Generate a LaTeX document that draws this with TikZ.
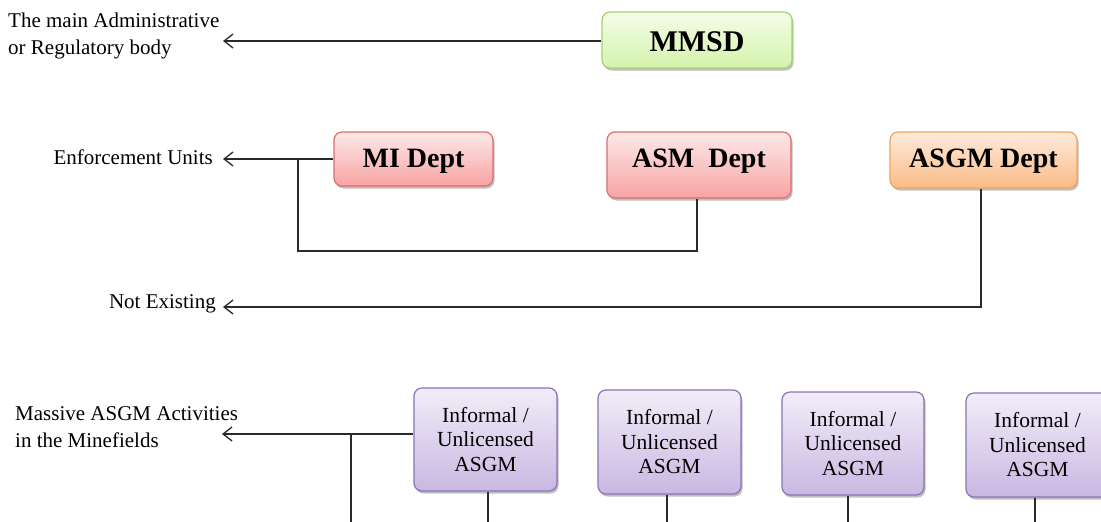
\documentclass[tikz,border=0pt]{standalone}
\usepackage{fontspec}
\setmainfont{Liberation Serif}
\usetikzlibrary{arrows.meta,shadows}
\definecolor{gTop}{HTML}{F4FDE9}
\definecolor{gBot}{HTML}{D4F3AC}
\definecolor{gBrd}{HTML}{A3D46A}
\definecolor{rTop}{HTML}{FDE9E9}
\definecolor{rBot}{HTML}{F8A3A3}
\definecolor{rBrd}{HTML}{DC6E6E}
\definecolor{oTop}{HTML}{FEEBDC}
\definecolor{oBot}{HTML}{FBBB86}
\definecolor{oBrd}{HTML}{F3A25A}
\definecolor{pTop}{HTML}{F1EDF8}
\definecolor{pBot}{HTML}{C9B8E2}
\definecolor{pBrd}{HTML}{8C72B6}
\definecolor{lineC}{HTML}{2A2A2A}
\tikzset{
  x=1pt, y=-1pt,
  boxbase/.style={rounded corners=8pt, line width=1.2pt, inner sep=0pt,
    drop shadow={shadow xshift=1.5pt, shadow yshift=-2.5pt, opacity=0.25, fill=black}},
  greenbox/.style={boxbase, draw=gBrd, top color=gTop, bottom color=gBot},
  redbox/.style={boxbase, draw=rBrd, top color=rTop, bottom color=rBot},
  orangebox/.style={boxbase, draw=oBrd, top color=oTop, bottom color=oBot},
  purplebox/.style={boxbase, draw=pBrd, top color=pTop, bottom color=pBot,
    minimum width=143pt, minimum height=103pt, align=center,
    font=\fontsize{21.5}{24.5}\selectfont},
  boldtxt/.style={font=\fontsize{28}{32}\selectfont\bfseries, inner sep=0pt, anchor=base},
  sidelabel/.style={font=\fontsize{21}{27}\selectfont, inner sep=0pt, align=left},
  conn/.style={draw=lineC, line width=1.3pt},
  arr/.style={conn, -{Straight Barb[length=9pt,width=14pt,line width=1.3pt]}},
}
\begin{document}
\begin{tikzpicture}
\useasboundingbox (0,0) rectangle (1101,522);
\clip (0,0) rectangle (1101,522);

% top level
\node[greenbox, minimum width=190pt, minimum height=56pt] (mmsd) at (697,40) {};
\node[boldtxt, font=\fontsize{30}{34}\selectfont\bfseries] (mmsdt) at (697,51) {MMSD};
\node[sidelabel, anchor=west] (lab1) at (8,36) {The main Administrative\\or Regulatory body};
\coordinate (tip1) at (223,41);
\draw[arr] (mmsd.west |- 0,41) -- (tip1);

% departments
\node[redbox, minimum width=159pt, minimum height=54pt] (mi) at (413.5,159) {};
\node[boldtxt] (mit) at (413.5,167) {MI Dept};
\node[redbox, minimum width=184pt, minimum height=66pt] (asm) at (699,165) {};
\node[boldtxt] (asmt) at (699,167) {ASM\ \ Dept};
\node[orangebox, minimum width=187pt, minimum height=56pt] (asgm) at (983.5,160) {};
\node[boldtxt] (asgmt) at (983.5,167) {ASGM Dept};

\node[sidelabel, anchor=east] (lab2) at (213,157) {Enforcement Units};
\coordinate (tip2) at (223,159);
\coordinate (b1) at (298,159);
\coordinate (b2) at (298,251);
\coordinate (b3) at (697,251);
\draw[arr] (mi.west) -- (tip2);
\draw[conn] (b1) -- (b2) -- (b3) -- (asm.south -| b3);

\node[sidelabel, anchor=east] (lab3) at (216,304) {Not Existing};
\coordinate (c1) at (981,307);
\coordinate (tip3) at (223,307);
\draw[arr] (asgm.south -| c1) -- (c1) -- (tip3);

% informal ASGM
\node[purplebox] (p1) at (485.5,439.5) {Informal /\\Unlicensed\\ASGM};
\node[purplebox, minimum height=104pt] (p2) at (669.5,442) {Informal /\\Unlicensed\\ASGM};
\node[purplebox, minimum width=142pt] (p3) at (853,443.5) {Informal /\\Unlicensed\\ASGM};
\node[purplebox, minimum height=104pt] (p4) at (1037.5,445) {Informal /\\Unlicensed\\ASGM};

\node[sidelabel, anchor=west] (lab4) at (15,427.5) {Massive ASGM Activities\\in the Minefields};
\coordinate (tip4) at (222,434);
\coordinate (d1) at (351,434);
\coordinate (d2) at (351,525);
\draw[arr] (p1.west |- 0,434) -- (tip4);
\draw[conn] (d1) -- (d2);
\coordinate (e1) at (488,525);
\coordinate (e2) at (667,525);
\coordinate (e3) at (848,525);
\coordinate (e4) at (1035,525);
\draw[conn] (p1.south -| e1) -- (e1);
\draw[conn] (p2.south -| e2) -- (e2);
\draw[conn] (p3.south -| e3) -- (e3);
\draw[conn] (p4.south -| e4) -- (e4);
\end{tikzpicture}
\end{document}
